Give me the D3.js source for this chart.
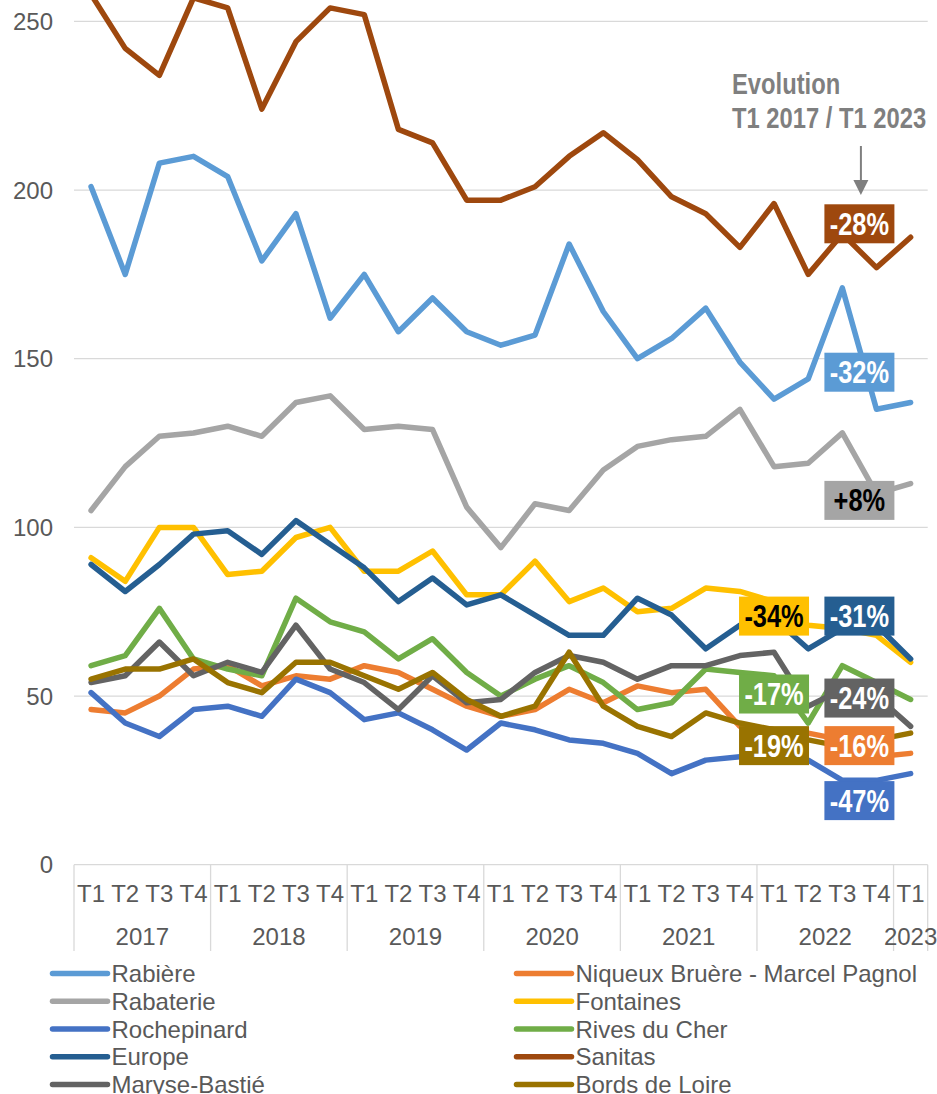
<!DOCTYPE html>
<html>
<head>
<meta charset="utf-8">
<script src="https://cdn.jsdelivr.net/npm/d3@7/dist/d3.min.js"></script>
<style>
  html, body { margin: 0; padding: 0; background: #fff; }
  svg { display: block; font-family: "Liberation Sans", Arial, sans-serif; }
</style>
</head>
<body>
<svg id="chart" width="937" height="1094"></svg>
<script>
// ---------- DATA ----------
const periods = ["T1 2017","T2 2017","T3 2017","T4 2017","T1 2018","T2 2018","T3 2018","T4 2018",
  "T1 2019","T2 2019","T3 2019","T4 2019","T1 2020","T2 2020","T3 2020","T4 2020",
  "T1 2021","T2 2021","T3 2021","T4 2021","T1 2022","T2 2022","T3 2022","T4 2022","T1 2023"];
const yTicks = [0, 50, 100, 150, 200, 250];

const seriesNames = ["Rabière","Niqueux Bruère - Marcel Pagnol","Rabaterie","Fontaines","Rochepinard",
  "Rives du Cher","Europe","Sanitas","Maryse-Bastié","Bords de Loire"];
const seriesColors = ["#5B9BD5","#ED7D31","#A5A5A5","#FFC000","#4472C4","#70AD47","#255E91","#9E480E","#636363","#997300"];

const rabiere     = [201,175,208,210,204,179,193,162,175,158,168,158,154,157,184,164,150,156,165,149,138,144,171,135,137];
const niqueux     = [46,45,50,58,59,53,56,55,59,57,52,47,44,46,52,48,53,51,52,41,40,39,37,32,33];
const rabaterie   = [105,118,127,128,130,127,137,139,129,130,129,106,94,107,105,117,124,126,127,135,118,119,128,110,113];
const fontaines   = [91,84,100,100,86,87,97,100,87,87,93,80,80,90,78,82,75,76,82,81,78,71,70,68,60];
const rochepinard = [51,42,38,46,47,44,55,51,43,45,40,34,42,40,37,36,33,27,31,32,33,31,25,25,27];
const rives       = [59,62,76,61,58,56,79,72,69,61,67,57,50,55,59,54,46,48,58,57,56,42,59,54,49];
const europe      = [89,81,89,98,99,92,102,95,88,78,85,77,80,74,68,68,79,74,64,71,73,64,70,71,61];
const sanitas     = [258,242,234,257,254,224,244,254,252,218,214,197,197,201,210,217,209,198,193,183,196,175,187,177,186];
const maryse      = [54,56,66,56,60,57,71,58,54,46,56,48,49,57,62,60,55,59,59,62,63,47,52,50,41];
const bords       = [55,58,58,61,54,51,60,60,56,52,57,49,44,47,63,47,41,38,45,42,40,37,35,37,39];
const seriesValues = [rabiere, niqueux, rabaterie, fontaines, rochepinard, rives, europe, sanitas, maryse, bords];

// evolution labels: text, series index, anchor (category position, value)
const evoText   = ["-28%","-32%","+8%","-34%","-31%","-17%","-24%","-19%","-16%","-47%"];
const evoSeries = [7, 0, 2, 3, 6, 5, 8, 9, 1, 4];
const evoCol    = [22.5, 22.5, 22.5, 20, 22.5, 20, 22.5, 20, 22.5, 22.5];
const evoVal    = [190, 146, 108, 73.7, 73.7, 50.6, 49.4, 35.3, 35.3, 19];
const evoDark   = ["+8%", "-34%"];

// ---------- LAYOUT ----------
const svg = d3.select("#chart");
const W = 937, H = 1094;
svg.append("rect").attr("width", W).attr("height", H).attr("fill", "#fff");

const plotLeft = 74, plotRight = 927.7;
const y = d3.scaleLinear().domain([0, 250]).range([864.7, 21.4]);
const xb = d3.scaleBand().domain(d3.range(periods.length)).range([plotLeft, plotRight]).padding(0);
const bw = xb.bandwidth();
const xc = i => plotLeft + (i + 0.5) * bw;   // centre of a (possibly fractional) category
const textColor = "#595959";
const gridColor = "#D9D9D9";

// gridlines
svg.append("g").selectAll("line").data(yTicks.filter(d => d > 0)).join("line")
  .attr("x1", plotLeft).attr("x2", plotRight)
  .attr("y1", d => y(d)).attr("y2", d => y(d))
  .attr("stroke", gridColor).attr("stroke-width", 1.3);

// y labels
svg.append("g").selectAll("text").data(yTicks).join("text")
  .attr("x", 53).attr("y", d => y(d) + 8.5)
  .attr("text-anchor", "end").attr("font-size", 24).attr("fill", textColor)
  .text(d => d);

// x axis line
svg.append("line").attr("x1", plotLeft).attr("x2", plotRight)
  .attr("y1", y(0)).attr("y2", y(0)).attr("stroke", gridColor).attr("stroke-width", 1.3);

// year group separators
const yearOf = p => p.split(" ")[1];
const quarterOf = p => p.split(" ")[0];
const years = Array.from(new Set(periods.map(yearOf)));
const yearGroups = years.map(yr => {
  const idx = periods.map((p, i) => [p, i]).filter(d => yearOf(d[0]) === yr).map(d => d[1]);
  return { yr, start: d3.min(idx), end: d3.max(idx) + 1 };
});
const sepX = [plotLeft].concat(yearGroups.map(g => xb(g.end - 1) + bw));
svg.append("g").selectAll("line").data(sepX).join("line")
  .attr("x1", d => d).attr("x2", d => d)
  .attr("y1", y(0)).attr("y2", 951)
  .attr("stroke", gridColor).attr("stroke-width", 1.3);

// quarter labels
svg.append("g").selectAll("text").data(periods).join("text")
  .attr("x", (d, i) => xc(i)).attr("y", 901.5)
  .attr("text-anchor", "middle").attr("font-size", 24).attr("fill", textColor)
  .text(d => quarterOf(d));

// year labels
svg.append("g").selectAll("text").data(yearGroups).join("text")
  .attr("x", d => (xb(d.start) + xb(d.end - 1) + bw) / 2).attr("y", 944.5)
  .attr("text-anchor", "middle").attr("font-size", 24).attr("fill", textColor)
  .text(d => d.yr);

// lines
const line = d3.line().x((d, i) => xc(i)).y(d => y(d));
svg.append("g").selectAll("path").data(seriesValues).join("path")
  .attr("d", d => line(d))
  .attr("fill", "none")
  .attr("stroke", (d, i) => seriesColors[i])
  .attr("stroke-width", 5.5)
  .attr("stroke-linejoin", "round")
  .attr("stroke-linecap", "round");

// narrow bold text helper
function narrow(g, x, yy, txt, size, color, anchor) {
  return g.append("text")
    .attr("transform", `translate(${x},${yy}) scale(0.82,1)`)
    .attr("text-anchor", anchor)
    .attr("font-size", size).attr("font-weight", "bold")
    .attr("fill", color).text(txt);
}

// evolution labels
const lg = svg.append("g");
evoText.forEach((t, k) => {
  const cx = xc(evoCol[k]) , cy = y(evoVal[k]);
  lg.append("rect").attr("x", cx - 35).attr("y", cy - 19.5)
    .attr("width", 70).attr("height", 39).attr("fill", seriesColors[evoSeries[k]]);
  narrow(lg, cx, cy + 11, t, 31, evoDark.includes(t) ? "#000" : "#fff", "middle");
});

// annotation
const ann = svg.append("g");
const annColor = "#7F7F7F";
narrow(ann, 732, 94.3, "Evolution", 29, annColor, "start");
narrow(ann, 732, 128.3, "T1 2017 / T1 2023", 29, annColor, "start");
const ax = xc(22.5) + 1.5;
ann.append("line").attr("x1", ax).attr("x2", ax).attr("y1", 146).attr("y2", 181)
  .attr("stroke", annColor).attr("stroke-width", 2);
ann.append("path").attr("d", `M${ax - 7.5},180 L${ax + 7.5},180 L${ax},195 Z`).attr("fill", annColor);

// legend
const leg = svg.append("g");
const legRowY = [973.5, 1001.3, 1029, 1056.8, 1084.5];
seriesNames.forEach((name, i) => {
  const col = i % 2, row = Math.floor(i / 2);
  const lx = col === 0 ? 52.5 : 516.5;
  const ly = legRowY[row];
  leg.append("line").attr("x1", lx).attr("x2", lx + 55).attr("y1", ly).attr("y2", ly)
    .attr("stroke", seriesColors[i]).attr("stroke-width", 5.5).attr("stroke-linecap", "round");
  leg.append("text").attr("x", lx + 59).attr("y", ly + 8.5)
    .attr("font-size", 24).attr("fill", textColor).text(name);
});
</script>
</body>
</html>
